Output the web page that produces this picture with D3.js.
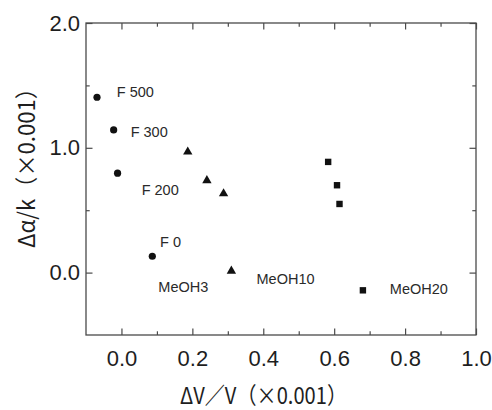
<!DOCTYPE html>
<html>
<head>
<meta charset="utf-8">
<script src="https://cdn.jsdelivr.net/npm/d3@7"></script>
<style>
  html, body { margin: 0; padding: 0; background: #fff; }
  svg { display: block; }
</style>
</head>
<body>
<svg id="chart" width="492" height="410"></svg>
<script>
// Series: shift ΔV/V against Δα/k, both in units of 0.001
const fSeriesX = [-0.069, -0.022, -0.011, 0.087];
const fSeriesY = [1.405, 1.143, 0.797, 0.131];

const triSeriesX = [0.187, 0.241, 0.288, 0.310];
const triSeriesY = [0.967, 0.738, 0.633, 0.013];

const sqSeriesX = [0.583, 0.608, 0.615, 0.681];
const sqSeriesY = [0.887, 0.700, 0.550, -0.142];

// Sample annotations, anchored in data units
const noteText = ["F 500", "F 300", "F 200", "F 0", "MeOH3", "MeOH10", "MeOH20"];
const noteX = [-0.013, 0.026, 0.057, 0.109, 0.104, 0.381, 0.757];
const noteY = [1.405, 1.089, 0.622, 0.208, -0.155, -0.091, -0.171];

// Axis ticks
const xMajor = [0.0, 0.2, 0.4, 0.6, 0.8, 1.0];
const xMinor = [0.1, 0.3, 0.5, 0.7, 0.9];
const yMajor = [0.0, 1.0, 2.0];
const yMinor = [0.5, 1.5];
const xTitle = "ΔV／V（×0.001）";
const yTitle = "Δα/k（×0.001）";

const svg = d3.select("#chart");
const plotL = 86, plotR = 476, plotT = 23, plotB = 335;

const x = d3.scaleLinear().domain([-0.1, 1.0]).range([plotL, plotR]);
const y = d3.scaleLinear().domain([-0.5, 2.0]).range([plotB, plotT]);

const axisColor = "#4a4a4a";
const fmt = d3.format(".1f");

// Ticks point into the plot on every side
function styleAxis(g) {
  g.select(".domain").remove();
  g.selectAll("line").attr("stroke", axisColor).attr("stroke-width", 1.2);
}

svg.append("g").attr("transform", `translate(0,${plotB})`)
  .call(d3.axisBottom(x).tickValues(xMajor).tickSize(-6.5).tickPadding(15).tickFormat(fmt))
  .call(styleAxis)
  .call(g => g.selectAll("text")
    .attr("font-family", "'Liberation Sans', Arial, sans-serif")
    .attr("font-size", 22).attr("fill", "#1e1e1e"));
svg.append("g").attr("transform", `translate(0,${plotB})`)
  .call(d3.axisBottom(x).tickValues(xMinor).tickSize(-3.7).tickFormat(""))
  .call(styleAxis);

svg.append("g").attr("transform", `translate(0,${plotT})`)
  .call(d3.axisTop(x).tickValues(xMajor).tickSize(-6.5).tickFormat(""))
  .call(styleAxis);
svg.append("g").attr("transform", `translate(0,${plotT})`)
  .call(d3.axisTop(x).tickValues(xMinor).tickSize(-3.7).tickFormat(""))
  .call(styleAxis);

svg.append("g").attr("transform", `translate(${plotL},0)`)
  .call(d3.axisLeft(y).tickValues(yMajor).tickSize(-6.5).tickPadding(6).tickFormat(fmt))
  .call(styleAxis)
  .call(g => g.selectAll("text")
    .attr("font-family", "'Liberation Sans', Arial, sans-serif")
    .attr("font-size", 22).attr("fill", "#1e1e1e"));
svg.append("g").attr("transform", `translate(${plotL},0)`)
  .call(d3.axisLeft(y).tickValues(yMinor).tickSize(-3.7).tickFormat(""))
  .call(styleAxis);

svg.append("g").attr("transform", `translate(${plotR},0)`)
  .call(d3.axisRight(y).tickValues(yMajor).tickSize(-6.5).tickFormat(""))
  .call(styleAxis);
svg.append("g").attr("transform", `translate(${plotR},0)`)
  .call(d3.axisRight(y).tickValues(yMinor).tickSize(-3.7).tickFormat(""))
  .call(styleAxis);

// Frame
svg.append("rect")
  .attr("x", plotL).attr("y", plotT)
  .attr("width", plotR - plotL).attr("height", plotB - plotT)
  .attr("fill", "none").attr("stroke", axisColor).attr("stroke-width", 1.3);

const markColor = "#111";

// Circles
svg.append("g").selectAll("circle")
  .data(d3.zip(fSeriesX, fSeriesY))
  .join("circle")
  .attr("cx", d => x(d[0])).attr("cy", d => y(d[1]))
  .attr("r", 3.6).attr("fill", markColor);

// Triangles
const tri = d3.symbol().type(d3.symbolTriangle).size(38);
svg.append("g").selectAll("path")
  .data(d3.zip(triSeriesX, triSeriesY))
  .join("path")
  .attr("d", tri)
  .attr("transform", d => `translate(${x(d[0])},${y(d[1])})`)
  .attr("fill", markColor);

// Squares
const sq = 6.4;
svg.append("g").selectAll("rect")
  .data(d3.zip(sqSeriesX, sqSeriesY))
  .join("rect")
  .attr("x", d => x(d[0]) - sq / 2).attr("y", d => y(d[1]) - sq / 2)
  .attr("width", sq).attr("height", sq)
  .attr("fill", markColor);

// Annotations
svg.append("g").selectAll("text")
  .data(d3.zip(noteText, noteX, noteY))
  .join("text")
  .attr("x", d => x(d[1])).attr("y", d => y(d[2]))
  .attr("font-family", "'Liberation Sans', Arial, sans-serif")
  .attr("font-size", 14.5).attr("fill", "#2a2a2a")
  .text(d => d[0]);

// Axis titles
svg.append("text")
  .attr("x", 180).attr("y", 404)
  .attr("font-family", "'Noto Sans CJK JP', sans-serif")
  .attr("font-size", 23).attr("fill", "#1e1e1e")
  .attr("textLength", 167).attr("lengthAdjust", "spacingAndGlyphs")
  .text(xTitle);

svg.append("text")
  .attr("transform", "translate(35,248) rotate(-90)")
  .attr("font-family", "'Noto Sans CJK JP', sans-serif")
  .attr("font-size", 23).attr("fill", "#1e1e1e")
  .attr("textLength", 171).attr("lengthAdjust", "spacingAndGlyphs")
  .text(yTitle);
</script>
</body>
</html>
